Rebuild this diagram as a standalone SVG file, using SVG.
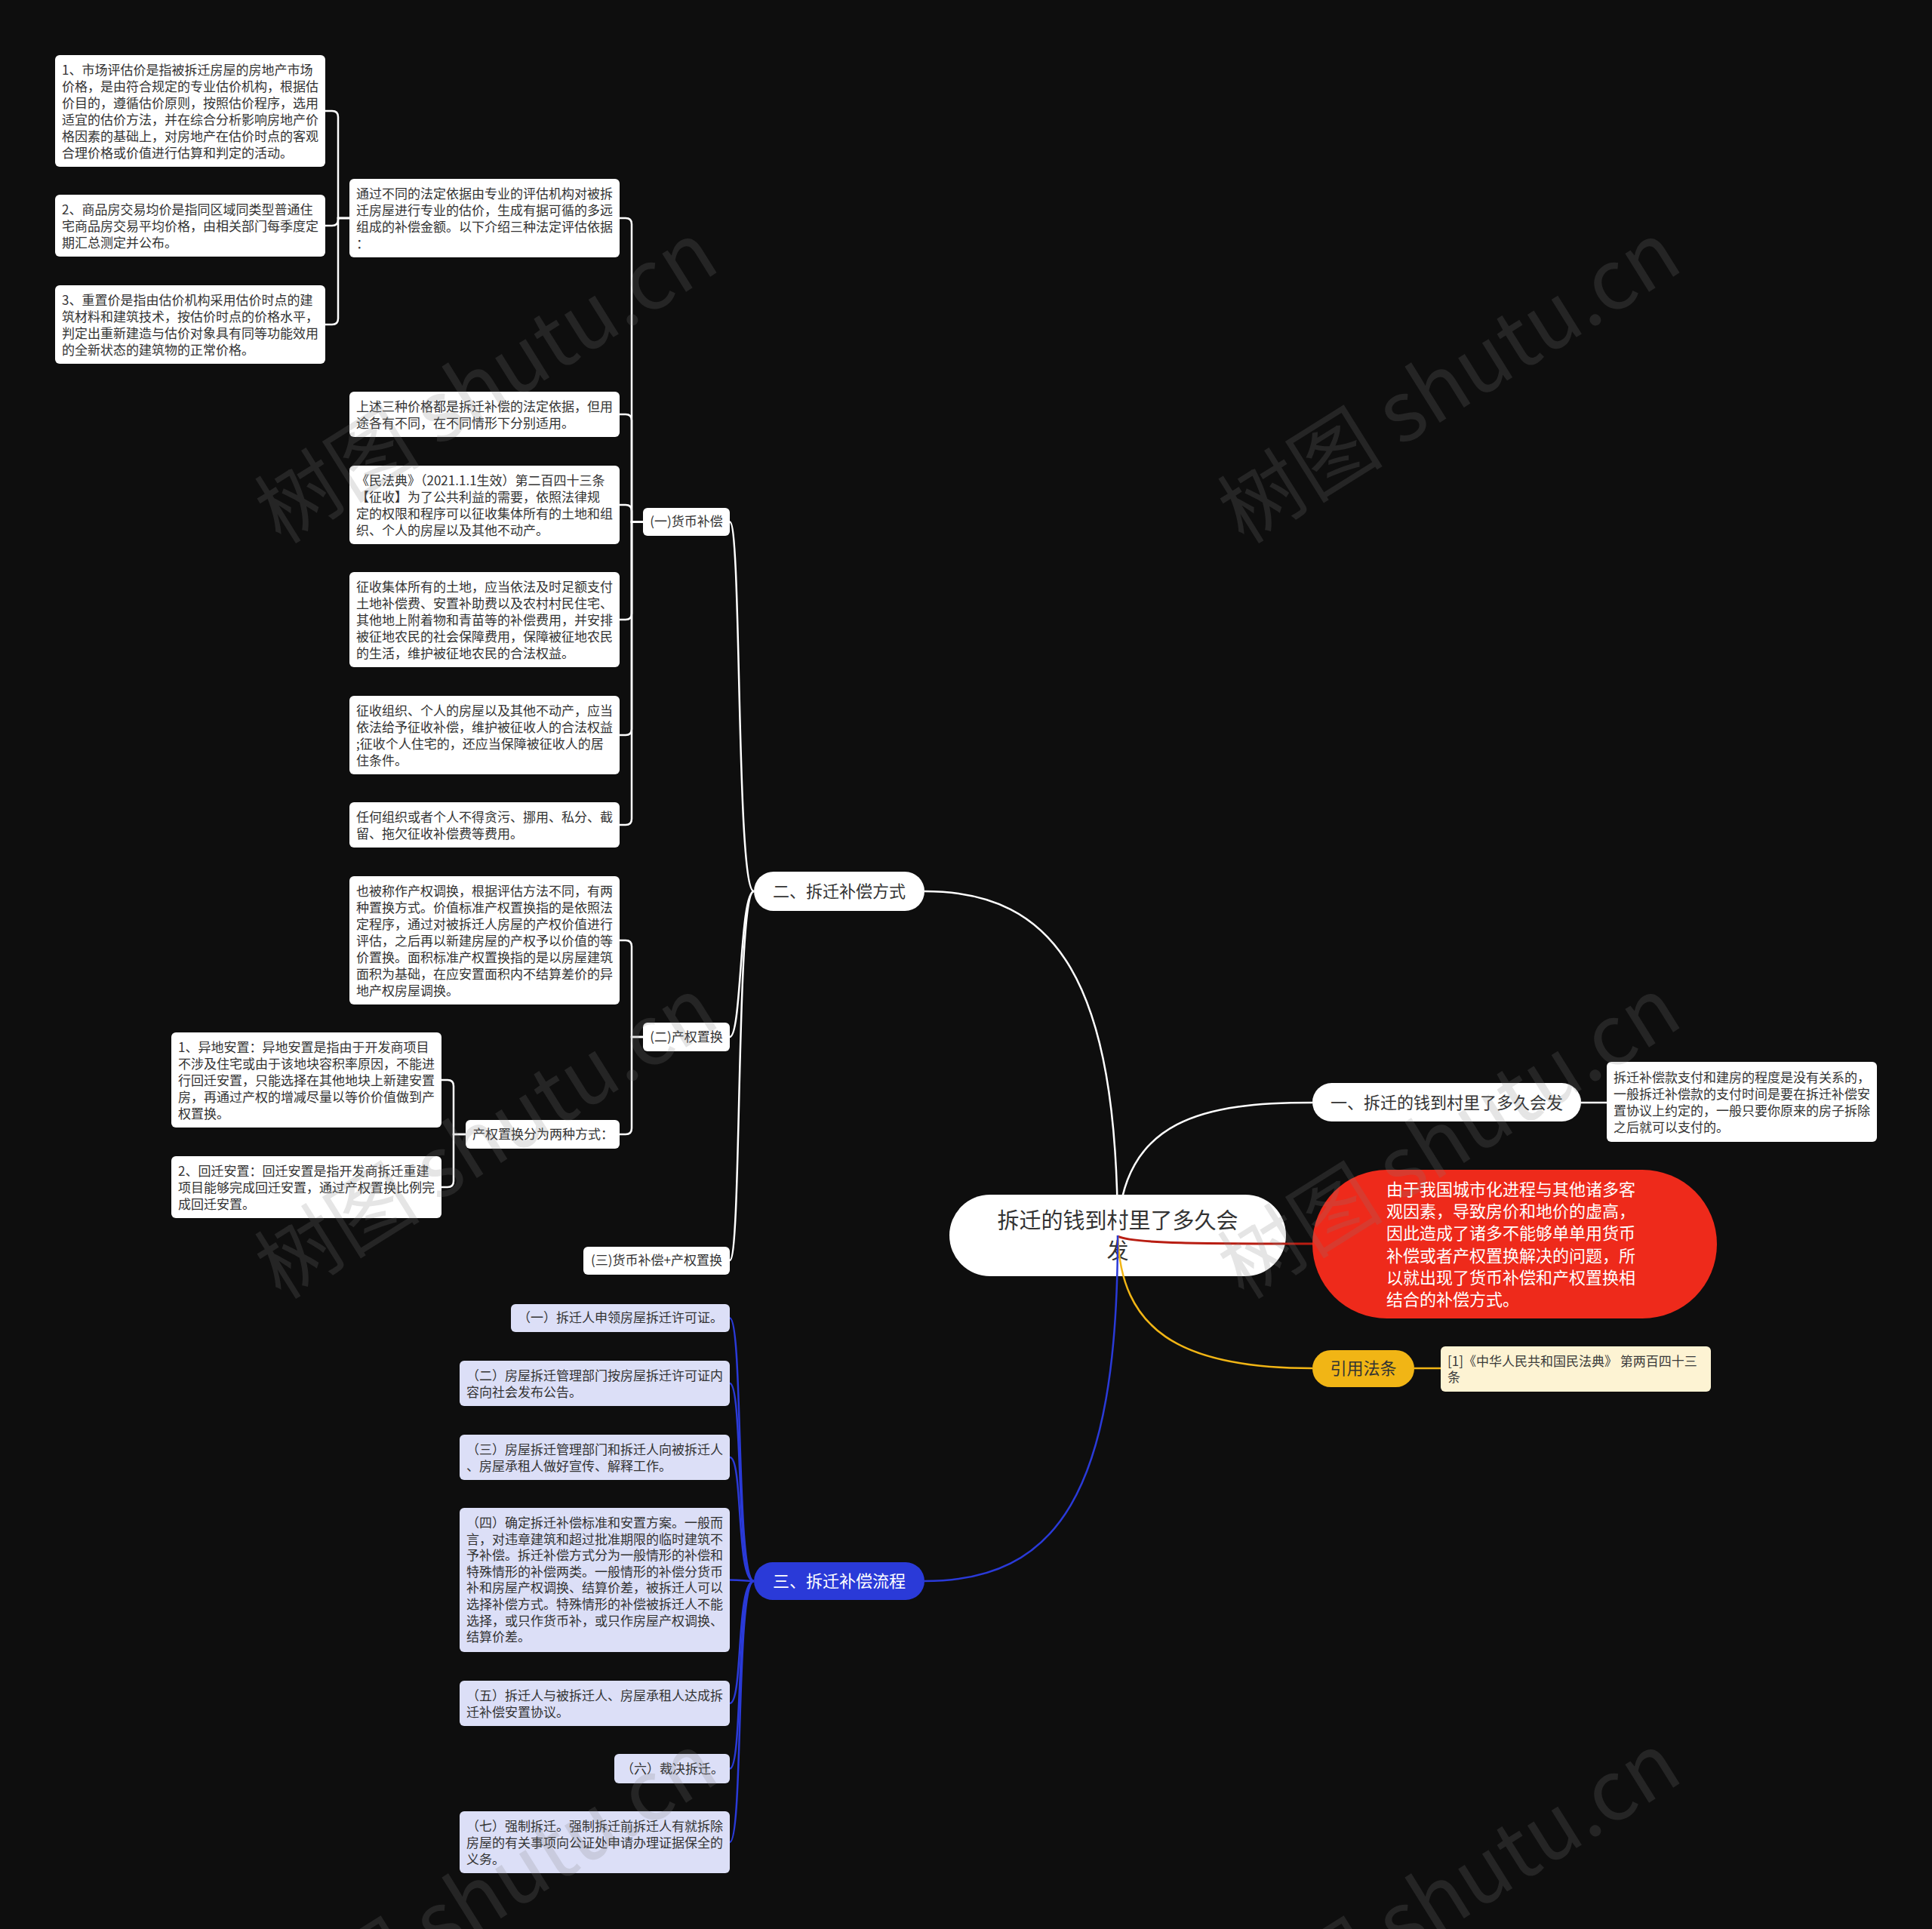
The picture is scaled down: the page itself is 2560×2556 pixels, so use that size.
<svg xmlns="http://www.w3.org/2000/svg" width="2560" height="2556" viewBox="0 0 2560 2556">
<style>
.t{font-family:"Noto Sans CJK SC","Noto Sans",sans-serif;font-size:17px;fill:#333}
.tl{font-family:"Noto Sans CJK SC","Noto Sans",sans-serif;font-size:17px;fill:#333}
.big{font-family:"Noto Sans CJK SC","Noto Sans",sans-serif;font-size:22px;fill:#333}
.wb{fill:#ffffff}
.lav{fill:#dcdff7}
.w{stroke:#ffffff;stroke-width:2.5;fill:none}
.bl{stroke:#2a3ad8;stroke-width:2.5;fill:none}
.ye{stroke:#f1b515;stroke-width:2.5;fill:none}
.rd{stroke:#b81d12;stroke-width:3;fill:none}
.wm{font-family:"Noto Sans CJK SC","Noto Sans",sans-serif;font-size:110px;fill:#808080;opacity:0.2}
</style>
<rect x="0" y="0" width="2560" height="2556" fill="#0e0e0e"/>

<g id="root">
<rect class="wb" x="1258" y="1583" width="446" height="108" rx="54"/>
<text font-family="Noto Sans CJK SC, sans-serif" font-size="29" fill="#333" text-anchor="middle"><tspan x="1481" y="1628">拆迁的钱到村里了多久会</tspan><tspan x="1481" y="1668">发</tspan></text>
</g>

<g id="connectors">
<path class="w" d="M1481 1637 C1485 1480 1600 1461 1739 1461"/>
<path class="w" d="M1481 1637 C1481 1300 1400 1181 1225 1181"/>
<path class="rd" d="M1481 1638 C1500 1648 1600 1648 1739 1648"/>
<path class="ye" d="M1481 1637 C1485 1760 1560 1813 1739 1813"/>
<path class="bl" d="M1481 1637 C1481 1980 1400 2095 1225 2095"/>
<path class="w" d="M2095 1461 H2129"/>
<path class="ye" d="M1874 1813 H1909"/>
<path class="w" d="M999 1181 C975 1181 983 691.5 967 691.5"/>
<path class="w" d="M999 1181 C980 1181 983 1374 967 1374"/>
<path class="w" d="M999 1181 C975 1181 983 1670 967 1670"/>
<path class="w" d="M852 691.5 H837 V297 Q837 289 829 289 H821"/>
<path class="w" d="M852 691.5 H837 V557 Q837 549 829 549 H821"/>
<path class="w" d="M852 691.5 H837 V677 Q837 669 829 669 H821"/>
<path class="w" d="M852 691.5 H837 V813 Q837 821 829 821 H821"/>
<path class="w" d="M852 691.5 H837 V966 Q837 974 829 974 H821"/>
<path class="w" d="M852 691.5 H837 V1085 Q837 1093 829 1093 H821"/>
<path class="w" d="M463 289 H448 V155 Q448 147 440 147 H431"/>
<path class="w" d="M463 289 H448 V291 Q448 299 440 299 H431"/>
<path class="w" d="M463 289 H448 V422 Q448 430 440 430 H431"/>
<path class="w" d="M854 1374 H837 V1254 Q837 1246 829 1246 H821"/>
<path class="w" d="M854 1374 H837 V1495 Q837 1503 829 1503 H821"/>
<path class="w" d="M617 1503 H601 V1439 Q601 1431 593 1431 H585"/>
<path class="w" d="M617 1503 H601 V1565 Q601 1573 593 1573 H585"/>
<path class="bl" d="M999 2095 C975 2095 985 1746.5 967 1746.5"/>
<path class="bl" d="M999 2095 C975 2095 985 1833 967 1833"/>
<path class="bl" d="M999 2095 C975 2095 985 1931 967 1931"/>
<path class="bl" d="M999 2095 C985 2095 985 2093.5 967 2093.5"/>
<path class="bl" d="M999 2095 C975 2095 985 2257 967 2257"/>
<path class="bl" d="M999 2095 C975 2095 985 2343.5 967 2343.5"/>
<path class="bl" d="M999 2095 C975 2095 985 2441 967 2441"/>
</g>

<g id="n1">
<rect class="wb" x="1739" y="1435" width="356" height="51" rx="25.5"/>
<text class="big" x="1917" y="1469" text-anchor="middle">一、拆迁的钱到村里了多久会发</text>
</g>
<g id="n1a">
<rect class="wb" x="2129" y="1407" width="358" height="106" rx="6"/>
<text class="t"><tspan x="2138" y="1434">拆迁补偿款支付和建房的程度是没有关系的，</tspan><tspan x="2138" y="1456">一般拆迁补偿款的支付时间是要在拆迁补偿安</tspan><tspan x="2138" y="1478">置协议上约定的，一般只要你原来的房子拆除</tspan><tspan x="2138" y="1500">之后就可以支付的。</tspan></text>
</g>

<g id="nred">
<rect x="1739" y="1550" width="536" height="197" rx="98.5" fill="#ee2a1b"/>
<text font-family="Noto Sans CJK SC, sans-serif" font-size="22" fill="#ffffff"><tspan x="1837" y="1584">由于我国城市化进程与其他诸多客</tspan><tspan x="1837" y="1613">观因素，导致房价和地价的虚高，</tspan><tspan x="1837" y="1642">因此造成了诸多不能够单单用货币</tspan><tspan x="1837" y="1672">补偿或者产权置换解决的问题，所</tspan><tspan x="1837" y="1701">以就出现了货币补偿和产权置换相</tspan><tspan x="1837" y="1730">结合的补偿方式。</tspan></text>
</g>

<g id="nref">
<rect x="1739" y="1789" width="135" height="49" rx="24.5" fill="#f1b515"/>
<text class="big" x="1806.5" y="1821" text-anchor="middle">引用法条</text>
</g>
<g id="nref1">
<rect x="1909" y="1784" width="358" height="60" rx="6" fill="#fdf3d3"/>
<text class="t" style="fill:#3a3a3a"><tspan x="1918" y="1810">[1]《中华人民共和国民法典》 第两百四十三</tspan><tspan x="1918" y="1831">条</tspan></text>
</g>

<g id="n2">
<rect class="wb" x="999" y="1155" width="226" height="52" rx="26"/>
<text class="big" x="1112" y="1189" text-anchor="middle">二、拆迁补偿方式</text>
</g>

<g id="n2a">
<rect class="wb" x="852" y="673" width="115" height="37" rx="6"/>
<text class="t" x="909.5" y="697" text-anchor="middle">(一)货币补偿</text>
</g>
<g id="n2b">
<rect class="wb" x="852" y="1355" width="115" height="38" rx="6"/>
<text class="t" x="909.5" y="1380" text-anchor="middle">(二)产权置换</text>
</g>
<g id="n2c">
<rect class="wb" x="773" y="1652" width="194" height="37" rx="6"/>
<text class="t" x="870" y="1676" text-anchor="middle">(三)货币补偿+产权置换</text>
</g>

<g id="b1">
<rect class="wb" x="463" y="237" width="358" height="104" rx="6"/>
<text class="t"><tspan x="472" y="263">通过不同的法定依据由专业的评估机构对被拆</tspan><tspan x="472" y="285">迁房屋进行专业的估价，生成有据可循的多远</tspan><tspan x="472" y="307">组成的补偿金额。以下介绍三种法定评估依据</tspan><tspan x="472" y="329">：</tspan></text>
</g>
<g id="a1">
<rect class="wb" x="73" y="73" width="358" height="148" rx="6"/>
<text class="t"><tspan x="82" y="99">1、市场评估价是指被拆迁房屋的房地产市场</tspan><tspan x="82" y="121">价格，是由符合规定的专业估价机构，根据估</tspan><tspan x="82" y="143">价目的，遵循估价原则，按照估价程序，选用</tspan><tspan x="82" y="165">适宜的估价方法，并在综合分析影响房地产价</tspan><tspan x="82" y="187">格因素的基础上，对房地产在估价时点的客观</tspan><tspan x="82" y="209">合理价格或价值进行估算和判定的活动。</tspan></text>
</g>
<g id="a2">
<rect class="wb" x="73" y="258" width="358" height="82" rx="6"/>
<text class="t"><tspan x="82" y="284">2、商品房交易均价是指同区域同类型普通住</tspan><tspan x="82" y="306">宅商品房交易平均价格，由相关部门每季度定</tspan><tspan x="82" y="328">期汇总测定并公布。</tspan></text>
</g>
<g id="a3">
<rect class="wb" x="73" y="378" width="358" height="104" rx="6"/>
<text class="t"><tspan x="82" y="404">3、重置价是指由估价机构采用估价时点的建</tspan><tspan x="82" y="426">筑材料和建筑技术，按估价时点的价格水平，</tspan><tspan x="82" y="448">判定出重新建造与估价对象具有同等功能效用</tspan><tspan x="82" y="470">的全新状态的建筑物的正常价格。</tspan></text>
</g>
<g id="b2">
<rect class="wb" x="463" y="519" width="358" height="60" rx="6"/>
<text class="t"><tspan x="472" y="545">上述三种价格都是拆迁补偿的法定依据，但用</tspan><tspan x="472" y="567">途各有不同，在不同情形下分别适用。</tspan></text>
</g>
<g id="b3">
<rect class="wb" x="463" y="617" width="358" height="104" rx="6"/>
<text class="t"><tspan x="472" y="643">《民法典》（2021.1.1生效）第二百四十三条</tspan><tspan x="472" y="665">【征收】为了公共利益的需要，依照法律规</tspan><tspan x="472" y="687">定的权限和程序可以征收集体所有的土地和组</tspan><tspan x="472" y="709">织、个人的房屋以及其他不动产。</tspan></text>
</g>
<g id="b4">
<rect class="wb" x="463" y="758" width="358" height="126" rx="6"/>
<text class="t"><tspan x="472" y="784">征收集体所有的土地，应当依法及时足额支付</tspan><tspan x="472" y="806">土地补偿费、安置补助费以及农村村民住宅、</tspan><tspan x="472" y="828">其他地上附着物和青苗等的补偿费用，并安排</tspan><tspan x="472" y="850">被征地农民的社会保障费用，保障被征地农民</tspan><tspan x="472" y="872">的生活，维护被征地农民的合法权益。</tspan></text>
</g>
<g id="b5">
<rect class="wb" x="463" y="922" width="358" height="104" rx="6"/>
<text class="t"><tspan x="472" y="948">征收组织、个人的房屋以及其他不动产，应当</tspan><tspan x="472" y="970">依法给予征收补偿，维护被征收人的合法权益</tspan><tspan x="472" y="992">;征收个人住宅的，还应当保障被征收人的居</tspan><tspan x="472" y="1014">住条件。</tspan></text>
</g>
<g id="b6">
<rect class="wb" x="463" y="1063" width="358" height="60" rx="6"/>
<text class="t"><tspan x="472" y="1089">任何组织或者个人不得贪污、挪用、私分、截</tspan><tspan x="472" y="1111">留、拖欠征收补偿费等费用。</tspan></text>
</g>
<g id="b7">
<rect class="wb" x="463" y="1161" width="358" height="170" rx="6"/>
<text class="t"><tspan x="472" y="1187">也被称作产权调换，根据评估方法不同，有两</tspan><tspan x="472" y="1209">种置换方式。价值标准产权置换指的是依照法</tspan><tspan x="472" y="1231">定程序，通过对被拆迁人房屋的产权价值进行</tspan><tspan x="472" y="1253">评估，之后再以新建房屋的产权予以价值的等</tspan><tspan x="472" y="1275">价置换。面积标准产权置换指的是以房屋建筑</tspan><tspan x="472" y="1297">面积为基础，在应安置面积内不结算差价的异</tspan><tspan x="472" y="1319">地产权房屋调换。</tspan></text>
</g>
<g id="c0">
<rect class="wb" x="617" y="1484" width="204" height="38" rx="6"/>
<text class="t" x="626" y="1509">产权置换分为两种方式：</text>
</g>
<g id="c1">
<rect class="wb" x="227" y="1368" width="358" height="126" rx="6"/>
<text class="t"><tspan x="236" y="1394">1、异地安置：异地安置是指由于开发商项目</tspan><tspan x="236" y="1416">不涉及住宅或由于该地块容积率原因，不能进</tspan><tspan x="236" y="1438">行回迁安置，只能选择在其他地块上新建安置</tspan><tspan x="236" y="1460">房，再通过产权的增减尽量以等价价值做到产</tspan><tspan x="236" y="1482">权置换。</tspan></text>
</g>
<g id="c2">
<rect class="wb" x="227" y="1532" width="358" height="82" rx="6"/>
<text class="t"><tspan x="236" y="1558">2、回迁安置：回迁安置是指开发商拆迁重建</tspan><tspan x="236" y="1580">项目能够完成回迁安置，通过产权置换比例完</tspan><tspan x="236" y="1602">成回迁安置。</tspan></text>
</g>

<g id="n3">
<rect x="999" y="2070" width="226" height="50" rx="25" fill="#2a3ad8"/>
<text class="big" x="1112" y="2103" text-anchor="middle" style="fill:#ffffff">三、拆迁补偿流程</text>
</g>
<g id="e1">
<rect class="lav" x="677" y="1728" width="290" height="37" rx="6"/>
<text class="tl" x="686" y="1752">（一）拆迁人申领房屋拆迁许可证。</text>
</g>
<g id="e2">
<rect class="lav" x="609" y="1803" width="358" height="60" rx="6"/>
<text class="tl"><tspan x="618" y="1829">（二）房屋拆迁管理部门按房屋拆迁许可证内</tspan><tspan x="618" y="1851">容向社会发布公告。</tspan></text>
</g>
<g id="e3">
<rect class="lav" x="609" y="1901" width="358" height="60" rx="6"/>
<text class="tl"><tspan x="618" y="1927">（三）房屋拆迁管理部门和拆迁人向被拆迁人</tspan><tspan x="618" y="1949">、房屋承租人做好宣传、解释工作。</tspan></text>
</g>
<g id="e4">
<rect class="lav" x="609" y="1998" width="358" height="191" rx="6"/>
<text class="tl"><tspan x="618" y="2024">（四）确定拆迁补偿标准和安置方案。一般而</tspan><tspan x="618" y="2046">言，对违章建筑和超过批准期限的临时建筑不</tspan><tspan x="618" y="2067">予补偿。拆迁补偿方式分为一般情形的补偿和</tspan><tspan x="618" y="2089">特殊情形的补偿两类。一般情形的补偿分货币</tspan><tspan x="618" y="2110">补和房屋产权调换、结算价差，被拆迁人可以</tspan><tspan x="618" y="2132">选择补偿方式。特殊情形的补偿被拆迁人不能</tspan><tspan x="618" y="2154">选择，或只作货币补，或只作房屋产权调换、</tspan><tspan x="618" y="2175">结算价差。</tspan></text>
</g>
<g id="e5">
<rect class="lav" x="609" y="2227" width="358" height="60" rx="6"/>
<text class="tl"><tspan x="618" y="2253">（五）拆迁人与被拆迁人、房屋承租人达成拆</tspan><tspan x="618" y="2275">迁补偿安置协议。</tspan></text>
</g>
<g id="e6">
<rect class="lav" x="814" y="2324" width="153" height="39" rx="6"/>
<text class="tl" x="823" y="2350">（六）裁决拆迁。</text>
</g>
<g id="e7">
<rect class="lav" x="609" y="2400" width="358" height="82" rx="6"/>
<text class="tl"><tspan x="618" y="2426">（七）强制拆迁。强制拆迁前拆迁人有就拆除</tspan><tspan x="618" y="2448">房屋的有关事项向公证处申请办理证据保全的</tspan><tspan x="618" y="2470">义务。</tspan></text>
</g>

<g id="watermark">
<text class="wm" x="649" y="514" text-anchor="middle" dominant-baseline="middle" transform="rotate(-32 649 514)">树图 shutu.cn</text>
<text class="wm" x="1925" y="514" text-anchor="middle" dominant-baseline="middle" transform="rotate(-32 1925 514)">树图 shutu.cn</text>
<text class="wm" x="649" y="1515" text-anchor="middle" dominant-baseline="middle" transform="rotate(-32 649 1515)">树图 shutu.cn</text>
<text class="wm" x="1925" y="1515" text-anchor="middle" dominant-baseline="middle" transform="rotate(-32 1925 1515)">树图 shutu.cn</text>
<text class="wm" x="649" y="2516" text-anchor="middle" dominant-baseline="middle" transform="rotate(-32 649 2516)">树图 shutu.cn</text>
<text class="wm" x="1925" y="2516" text-anchor="middle" dominant-baseline="middle" transform="rotate(-32 1925 2516)">树图 shutu.cn</text>
</g>
</svg>
